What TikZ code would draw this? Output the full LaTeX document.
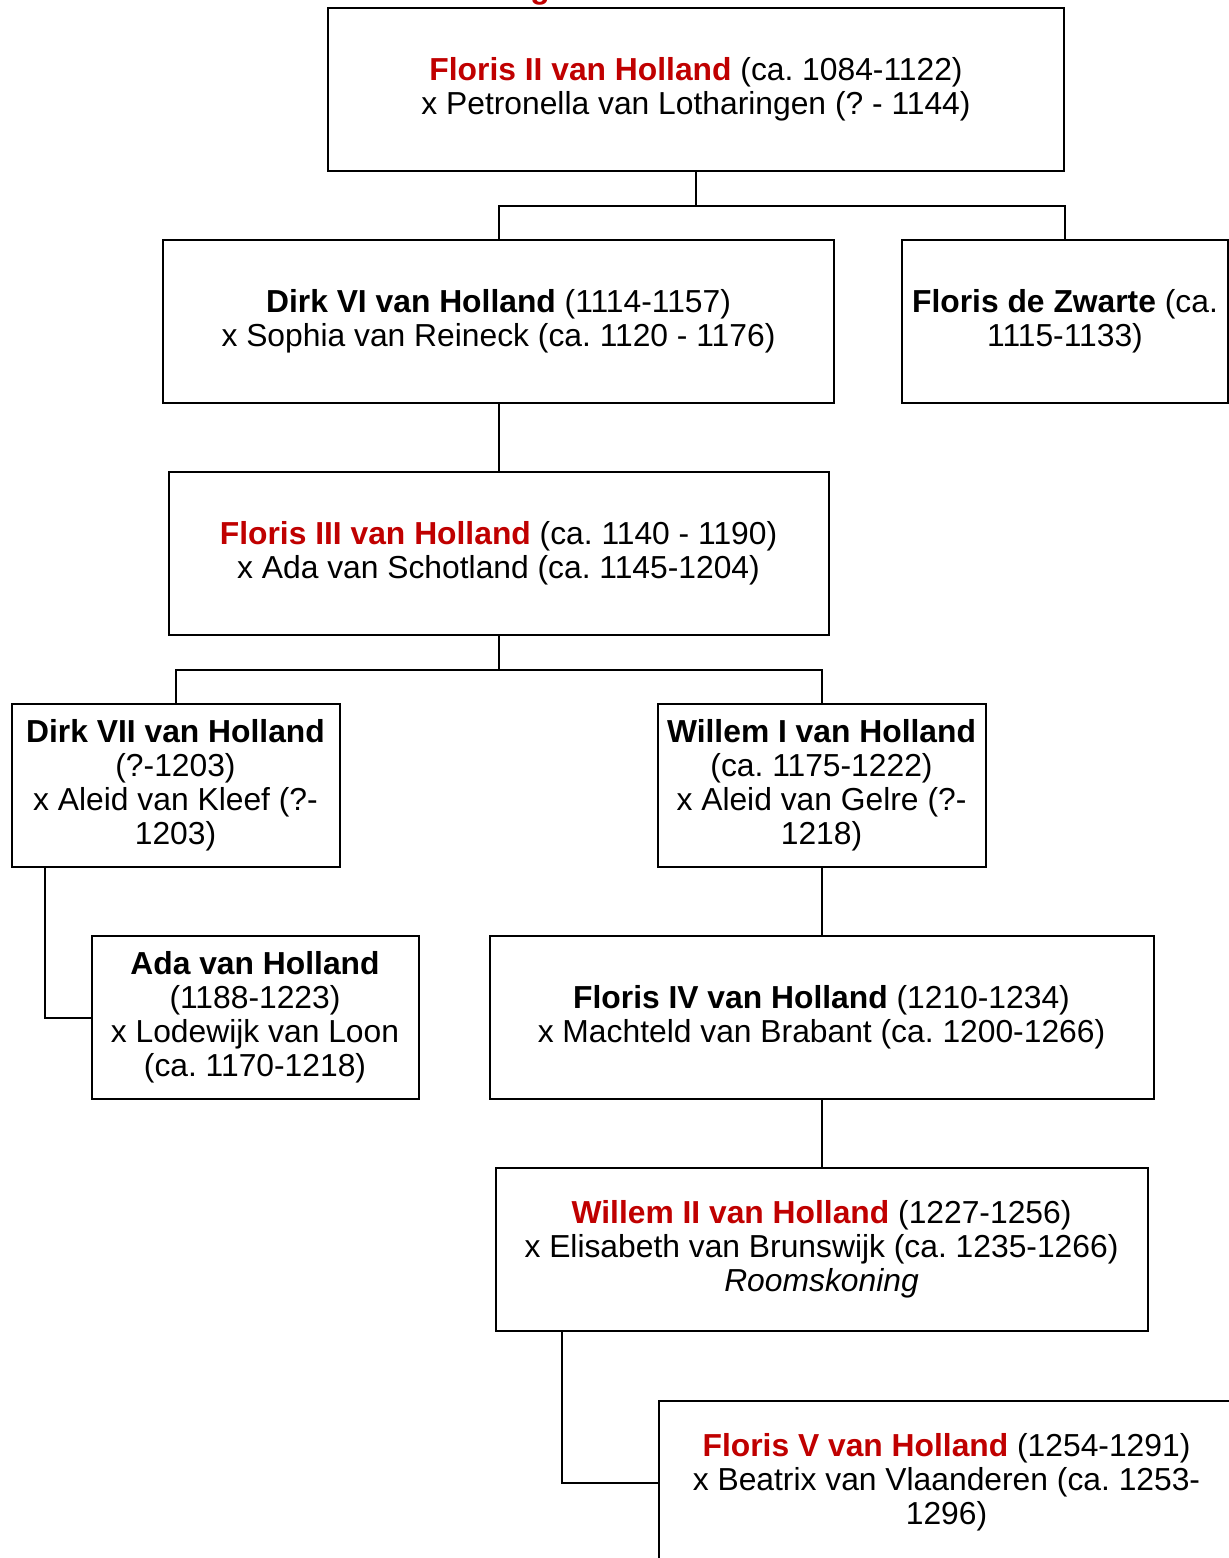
\documentclass[tikz,border=0pt]{standalone}
\usepackage{fontspec}
\setmainfont{Liberation Sans}
\usepackage{xcolor}
\usepackage{tikz}
\usetikzlibrary{positioning}

\definecolor{countred}{RGB}{192,0,0}
\frenchspacing

\begin{document}
\begin{tikzpicture}[
  person/.style={rectangle, draw=black, line width=1pt, fill=white, minimum height=81.5pt, inner sep=0pt, outer sep=0pt, align=center, font=\fontsize{15.9}{17}\selectfont},
  link/.style={draw=black, line width=1pt},
  node distance=34.5pt and 34pt
]
\useasboundingbox (0,0) rectangle (614.5pt,-779pt);
% cut-off title above the picture
\node[anchor=base, font=\fontsize{15.9}{17}\selectfont\bfseries, text=countred, inner sep=0pt] (title) at (270pt,0.6pt) {g};
\node[person, minimum width=368pt] (floris2) at (348pt,-44.75pt)
  {{\bfseries\color{countred}Floris II van Holland} (ca. 1084-1122)\\x Petronella van Lotharingen (? - 1144)};
\node[person, minimum width=335.5pt, below=of floris2, xshift=-98.75pt] (dirk6)
  {{\bfseries Dirk VI van Holland} (1114-1157)\\x Sophia van Reineck (ca. 1120 - 1176)};
\node[person, minimum width=163pt, right=of dirk6] (zwarte)
  {{\bfseries Floris de Zwarte} (ca.\\1115-1133)};
\draw[link] (floris2.south) -- ++(0,-17.5pt) -| (dirk6.north);
\draw[link] (floris2.south) -- ++(0,-17.5pt) -| (zwarte.north);
\node[person, minimum width=330pt, below=of dirk6] (floris3)
  {{\bfseries\color{countred}Floris III van Holland} (ca. 1140 - 1190)\\x Ada van Schotland (ca. 1145-1204)};
\draw[link] (dirk6) -- (floris3);
\node[person, minimum width=164pt, below=of floris3, xshift=-161.5pt] (dirk7)
  {{\bfseries Dirk VII van Holland}\\(?-1203)\\x Aleid van Kleef (?-\\1203)};
\node[person, minimum width=164pt, right=159pt of dirk7] (willem1)
  {{\bfseries Willem I van Holland}\\(ca. 1175-1222)\\x Aleid van Gelre (?-\\1218)};
\draw[link] (floris3.south) -- ++(0,-17.5pt) -| (dirk7.north);
\draw[link] (floris3.south) -- ++(0,-17.5pt) -| (willem1.north);
\node[person, minimum width=163.5pt, below=of dirk7, xshift=39.75pt] (ada)
  {{\bfseries Ada van Holland}\\(1188-1223)\\x Lodewijk van Loon\\(ca. 1170-1218)};
\draw[link] ([xshift=16.5pt]dirk7.south west) |- (ada.west);
\node[person, minimum width=332pt, below=of willem1] (floris4)
  {{\bfseries Floris IV van Holland} (1210-1234)\\x Machteld van Brabant (ca. 1200-1266)};
\draw[link] (willem1) -- (floris4);
\node[person, minimum width=326pt, below=of floris4] (willem2)
  {{\bfseries\color{countred}Willem II van Holland} (1227-1256)\\x Elisabeth van Brunswijk (ca. 1235-1266)\\\itshape Roomskoning};
\draw[link] (floris4) -- (willem2);
\node[person, minimum width=288pt, below=35pt of willem2, xshift=62.5pt] (floris5)
  {{\bfseries\color{countred}Floris V van Holland} (1254-1291)\\x Beatrix van Vlaanderen (ca. 1253-\\1296)};
\draw[link] ([xshift=33pt]willem2.south west) |- (floris5.west);
\end{tikzpicture}
\end{document}
